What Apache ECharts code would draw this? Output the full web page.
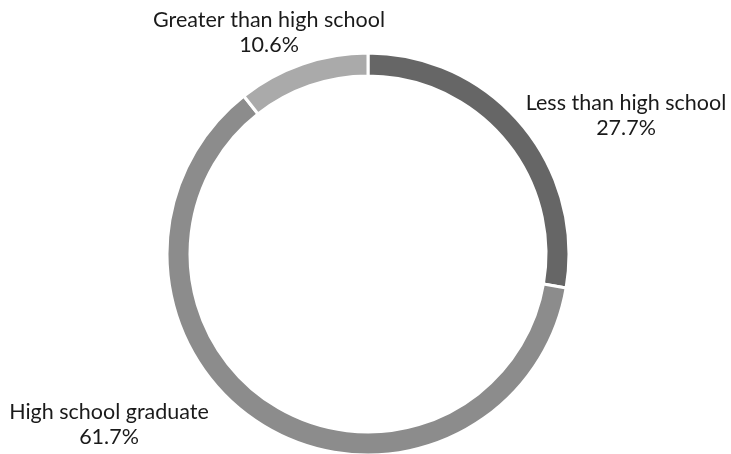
<!DOCTYPE html>
<html><head><meta charset="utf-8">
<script src="https://cdn.jsdelivr.net/npm/echarts@6/dist/echarts.min.js"></script>
<style>html,body{margin:0;padding:0;background:#fff}#c{width:731px;height:454px}</style>
</head><body><div id="c"></div>
<script>
const categories = ["Less than high school", "High school graduate", "Greater than high school"];
const values = [27.7, 61.7, 10.6];
const colors = ["#666666", "#8c8c8c", "#aaaaaa"];
// label anchor positions (layout only)
const labelPos = [[626, 116], [109, 425], [269, 33]];

const chart = echarts.init(document.getElementById('c'));
chart.setOption({
  animation: false,
  series: [{
    type: 'pie',
    center: [368, 254],
    radius: [178, 201],
    startAngle: 90,
    clockwise: true,
    avoidLabelOverlap: false,
    itemStyle: { borderColor: '#fff', borderWidth: 3 },
    label: {
      show: true,
      position: 'outside',
      formatter: p => p.name + '\n' + p.value.toFixed(1) + '%',
      fontFamily: 'Lato',
      fontSize: 21.5,
      lineHeight: 25,
      color: '#1a1a1a',
      align: 'center'
    },
    labelLine: { show: false },
    labelLayout: function (params) {
      const p = labelPos[params.dataIndex];
      return { x: p[0], y: p[1], align: 'center', verticalAlign: 'middle' };
    },
    data: categories.map((c, i) => ({ name: c, value: values[i], itemStyle: { color: colors[i] } }))
  }]
});
</script></body></html>
